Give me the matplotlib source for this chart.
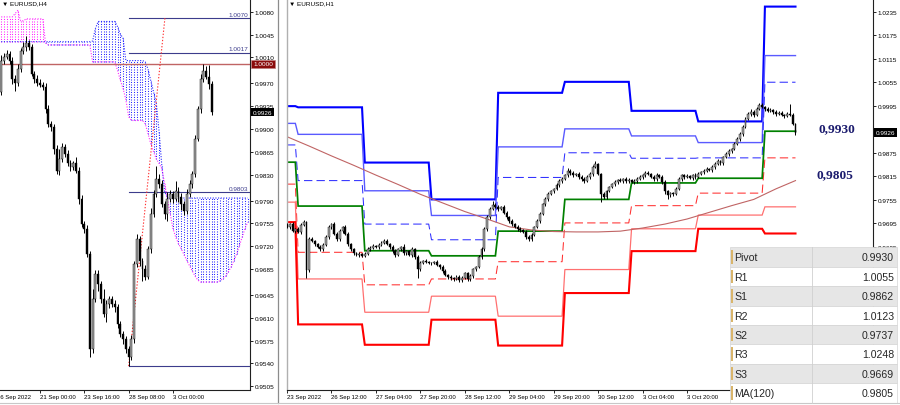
import numpy as np
import matplotlib
matplotlib.use("Agg")
import matplotlib.pyplot as plt
from matplotlib.transforms import blended_transform_factory
from matplotlib.patches import Rectangle

plt.rcParams['font.family'] = ['Liberation Sans', 'DejaVu Sans']

# ====================== DATA ======================
# ---- Left panel: EURUSD H4 (prices in pips, /10000) ----
l_open0 = 9957
l_close = [10005, 10011, 10015, 10005, 9977, 9971, 9992, 10020, 10026, 10032, 10026, 9985,
           9977, 9971, 9968, 9965, 9931, 9908, 9903, 9870, 9836, 9854, 9873, 9862,
           9847, 9842, 9847, 9836, 9793, 9754, 9747, 9708, 9562, 9639, 9678, 9662,
           9639, 9616, 9631, 9639, 9631, 9627, 9601, 9585, 9578, 9562, 9550, 9578,
           9693, 9731, 9698, 9685, 9673, 9716, 9770, 9800, 9823, 9816, 9785, 9770,
           9793, 9800, 9793, 9805, 9796, 9785, 9774, 9800, 9816, 9831, 9885, 9931,
           9977, 9989, 9980, 9969, 9926]
l_wick_up = [8, 5, 6, 4, 5, 6, 7, 5, 8, 10, 4, 5,
             4, 6, 5, 4, 5, 6, 4, 5, 6, 15, 5, 4,
             6, 5, 4, 10, 5, 6, 4, 5, 4, 15, 6, 5,
             4, 15, 6, 5, 4, 6, 5, 4, 5, 4, 5, 6,
             5, 8, 5, 4, 6, 5, 8, 6, 20, 8, 5, 4,
             10, 6, 5, 15, 6, 5, 4, 8, 6, 5, 6, 5,
             8, 11, 8, 18, 4]
l_wick_dn = [5, 6, 4, 5, 8, 12, 5, 4, 5, 6, 5, 4,
             6, 5, 4, 5, 6, 5, 6, 8, 5, 6, 4, 5,
             4, 6, 5, 4, 8, 5, 6, 5, 12, 6, 5, 10,
             6, 5, 12, 6, 5, 8, 6, 5, 8, 6, 14, 5,
             6, 5, 8, 18, 5, 4, 6, 5, 4, 6, 5, 8,
             12, 5, 6, 4, 8, 10, 6, 5, 4, 6, 5, 4,
             6, 5, 4, 8, 5]
# Ichimoku cloud spans (one value per H4 bar, cloud runs ahead of price)
span_a = [10034] * 16 + [10034] * 17 + [10035, 10054] + [10065] * 7 + [10057, 10046, 10039] + \
         [10005] * 7 + [10003, 9992, 9974, 9957, 9939, 9896, 9843, 9804] + [9794] * 30
span_b = [10072] * 5 + [10077, 10082, 10066, 10066] + [10069] * 7 + [10032] + [10029] * 16 + \
         [10003] * 9 + [9990, 9975, 9962, 9945, 9919] + [9913] * 5 + \
         [9908, 9893, 9877, 9865, 9854, 9847, 9839, 9816, 9793, 9770, 9747, 9734, 9724, 9716,
          9707, 9698, 9690, 9682, 9674, 9668] + [9665] * 7 + \
         [9667, 9670, 9674, 9681, 9688, 9698, 9708, 9721, 9734, 9747, 9757]
fib_levels = [1.0070, 1.0017, 0.9803, 0.9536]
fib_labels = ["1.0070", "1.0017", "0.9803", ""]
fib_start_bar = 46
round_level = 1.0000
trend_x = [46, 59.1]
trend_y = [0.9536, 1.0070]
l_yticks = [1.0080, 1.0045, 1.0010, 0.9970, 0.9935, 0.9900, 0.9865, 0.9830, 0.9790,
            0.9755, 0.9720, 0.9685, 0.9645, 0.9610, 0.9575, 0.9540, 0.9505]
l_xtick_pos = [14, 30, 46, 62]
l_xtick_lab = ["21 Sep 00:00", "23 Sep 16:00", "28 Sep 08:00", "3 Oct 00:00"]
l_first_label = (-1.9, "16 Sep 2022")
last_price = 0.9926

# ---- Right panel: EURUSD H1 ----
r_open0 = 9690
r_close = [9686, 9693, 9675, 9680, 9673, 9691, 9698, 9575, 9655, 9650, 9642, 9635,
           9629, 9640, 9660, 9686, 9693, 9668, 9655, 9675, 9686, 9668, 9642, 9629,
           9619, 9614, 9617, 9612, 9617, 9629, 9632, 9637, 9635, 9640, 9645, 9650,
           9642, 9635, 9624, 9614, 9629, 9635, 9619, 9624, 9614, 9629, 9609, 9578,
           9594, 9599, 9596, 9594, 9594, 9596, 9589, 9584, 9573, 9563, 9558, 9555,
           9553, 9558, 9550, 9555, 9568, 9553, 9561, 9578, 9584, 9609, 9629, 9680,
           9711, 9732, 9742, 9737, 9732, 9737, 9721, 9711, 9701, 9693, 9686, 9680,
           9678, 9673, 9660, 9655, 9665, 9686, 9701, 9719, 9744, 9757, 9770, 9777,
           9783, 9793, 9803, 9808, 9818, 9829, 9824, 9818, 9821, 9813, 9808, 9803,
           9813, 9821, 9839, 9846, 9821, 9770, 9762, 9777, 9788, 9795, 9800, 9806,
           9803, 9808, 9803, 9806, 9800, 9803, 9808, 9813, 9818, 9824, 9821, 9813,
           9808, 9818, 9813, 9800, 9777, 9767, 9772, 9770, 9783, 9808, 9818, 9813,
           9816, 9811, 9818, 9813, 9821, 9826, 9829, 9834, 9831, 9839, 9846, 9854,
           9849, 9864, 9872, 9880, 9885, 9898, 9910, 9923, 9941, 9961, 9974, 9979,
           9972, 9987, 9997, 9992, 9987, 9982, 9984, 9979, 9974, 9977, 9972, 9969,
           9974, 9972, 9949, 9926]
r_wick_up = [5, 4, 6, 3, 5, 4, 6, 3, 4, 5, 3, 4,
             4, 5, 4, 5, 3, 6, 4, 5, 3, 4, 5, 4,
             3, 4, 5, 3, 4, 5, 4, 6, 3, 4, 5, 4,
             5, 3, 4, 5, 4, 3, 6, 4, 3, 5, 4, 6,
             4, 3, 5, 4, 3, 4, 5, 3, 4, 5, 3, 4,
             3, 4, 5, 6, 4, 3, 5, 4, 3, 4, 5, 6,
             5, 4, 10, 4, 5, 3, 4, 5, 3, 4, 3, 4,
             5, 3, 4, 5, 4, 3, 5, 4, 3, 4, 5, 4,
             3, 4, 5, 4, 3, 6, 4, 5, 3, 4, 5, 4,
             4, 5, 6, 8, 4, 3, 5, 4, 3, 4, 5, 3,
             4, 3, 5, 4, 3, 4, 5, 4, 3, 5, 4, 3,
             4, 5, 3, 4, 5, 4, 3, 4, 5, 4, 3, 4,
             5, 3, 4, 5, 4, 3, 4, 5, 3, 4, 5, 4,
             3, 4, 5, 4, 3, 4, 5, 4, 6, 4, 5, 8,
             4, 5, 6, 4, 3, 5, 4, 3, 4, 5, 4, 3,
             5, 25, 4, 3]
r_wick_dn = [4, 5, 3, 6, 4, 5, 3, 20, 4, 3, 5, 4,
             5, 4, 3, 4, 5, 3, 4, 5, 4, 3, 4, 5,
             4, 3, 5, 4, 3, 4, 5, 3, 4, 5, 3, 4,
             3, 5, 4, 6, 3, 4, 5, 4, 3, 4, 5, 22,
             5, 4, 3, 4, 5, 4, 3, 5, 4, 3, 4, 5,
             4, 3, 5, 4, 3, 4, 5, 6, 4, 3, 5, 4,
             4, 5, 3, 4, 5, 4, 3, 4, 5, 4, 3, 5,
             4, 3, 5, 4, 6, 3, 4, 5, 3, 4, 5, 4,
             4, 3, 5, 4, 3, 4, 5, 4, 3, 4, 5, 4,
             3, 4, 5, 4, 3, 20, 4, 5, 3, 4, 5, 4,
             3, 4, 5, 4, 3, 4, 5, 3, 4, 5, 4, 3,
             4, 5, 3, 4, 6, 10, 4, 5, 3, 4, 5, 4,
             3, 4, 5, 4, 3, 4, 5, 4, 3, 4, 5, 3,
             4, 5, 3, 4, 5, 4, 3, 4, 5, 4, 3, 4,
             5, 4, 3, 4, 5, 3, 4, 5, 4, 3, 4, 5,
             4, 3, 4, 5]
# daily pivot levels: first H1 bar of each day (23 Sep .. 5 Oct)
day_start = [0, 4, 28, 52, 76, 100, 124, 148, 172]
piv_R3 = [0.9994, 0.9991, 0.9850, 0.9756, 1.0028, 1.0056, 0.9982, 0.9955, 1.0248]
piv_R2 = [0.9950, 0.9922, 0.9778, 0.9715, 0.9890, 0.9936, 0.9918, 0.9901, 1.0123]
piv_R1 = [0.9895, 0.9804, 0.9693, 0.9653, 0.9812, 0.9875, 0.9861, 0.9862, 1.0055]
piv_P = [0.9851, 0.9739, 0.9625, 0.9612, 0.9675, 0.9756, 0.9798, 0.9810, 0.9930]
piv_S1 = [0.9795, 0.9621, 0.9538, 0.9553, 0.9597, 0.9696, 0.9740, 0.9772, 0.9862]
piv_S2 = [0.9749, 0.9553, 0.9468, 0.9509, 0.9458, 0.9577, 0.9681, 0.9716, 0.9737]
piv_S3 = [0.9698, 0.9437, 0.9385, 0.9449, 0.9383, 0.9517, 0.9624, 0.9681, 0.9669]
ma_idx = [0, 8, 16, 24, 32, 40, 48, 56, 64, 72, 80, 88, 96, 104, 112, 120, 128, 136, 144,
          152, 160, 168, 176, 183]
ma_val = [9916, 9892, 9867, 9843, 9818, 9794, 9769, 9747, 9725, 9706, 9686, 9678, 9674,
          9673, 9673, 9675, 9683, 9693, 9706, 9723, 9740, 9756, 9783, 9804]
r_yticks = [1.0235, 1.0175, 1.0115, 1.0055, 0.9995, 0.9935, 0.9875, 0.9815, 0.9755,
            0.9695, 0.9635]
r_xtick_pos = [0, 16, 32, 48, 64, 80, 96, 112, 128, 144]
r_xtick_lab = ["23 Sep 2022", "26 Sep 12:00", "27 Sep 04:00", "27 Sep 20:00", "28 Sep 12:00",
               "29 Sep 04:00", "29 Sep 20:00", "30 Sep 12:00", "3 Oct 04:00", "3 Oct 20:00"]
tab_labels = ["Pivot", "R1", "S1", "R2", "S2", "R3", "S3", "MA(120)"]
tab_values = [0.9930, 1.0055, 0.9862, 1.0123, 0.9737, 1.0248, 0.9669, 0.9805]

# ====================== FIGURE ======================
W, H = 900, 406
fig = plt.figure(figsize=(9, 4.06), dpi=100)
fig.patch.set_facecolor('white')


def px_axes(x0, y0, x1, y1, **kw):
    return fig.add_axes([x0 / W, 1 - y1 / H, (x1 - x0) / W, (y1 - y0) / H], **kw)


axL = px_axes(0, 0, 250, 391)
axR = px_axes(287, 0, 873, 391)

LX0, LDX = 1.2, 2.77
RX0, RDX = 286.5, 2.781
axL.set_xlim((0 - LX0) / LDX, (250 - LX0) / LDX)
axL.set_ylim(0.94993, 1.00995)
axR.set_xlim((287 - RX0) / RDX, (873 - RX0) / RDX)
axR.set_ylim(0.92696, 1.02674)

TICK_FS_Y = 4.6
TICK_FS_X = 4.3

for ax in (axL, axR):
    ax.set_facecolor('white')
    ax.spines['top'].set_visible(False)
    ax.spines['right'].set_color('#202020')
    ax.spines['bottom'].set_color('#202020')
    ax.spines['right'].set_linewidth(0.8)
    ax.spines['bottom'].set_linewidth(0.8)
    ax.yaxis.tick_right()
    ax.tick_params(axis='y', length=2, width=0.6, pad=1.2, labelsize=TICK_FS_Y, colors='black')
    ax.tick_params(axis='x', length=2.2, width=0.6, pad=0.8, labelsize=TICK_FS_X, colors='black')
axL.spines['left'].set_visible(False)
axR.spines['left'].set_color('#b0b0b0')
axR.spines['left'].set_linewidth(1.0)


def draw_candles(ax, closes, open0, up, dn):
    c = np.array(closes, dtype=float) / 1e4
    o = np.concatenate([[open0 / 1e4], c[:-1]])
    hi = np.maximum(o, c) + np.array(up) / 1e4
    lo = np.minimum(o, c) - np.array(dn) / 1e4
    x = np.arange(len(c))
    ax.vlines(x, lo, hi, color='black', lw=0.7, zorder=4)
    bull = c >= o
    h = np.maximum(np.abs(c - o), 0.00008)
    ax.bar(x, h, bottom=np.minimum(o, c), width=0.68,
           color=np.where(bull, '#a4a4a4', '#000000'), edgecolor='black',
           linewidth=0.3, zorder=5)


# ---------- Left panel ----------
ka = np.arange(len(span_a))
A = np.array(span_a) / 1e4
B = np.array(span_b) / 1e4
cl = np.where(A >= B, '#2a2aff', '#ff2aff')
axL.vlines(ka, np.minimum(A, B), np.maximum(A, B), colors=cl, linestyles=(0, (1, 1.4)),
           lw=0.75, zorder=1)
axL.plot(ka, A, color='#2a2aff', ls=(0, (1, 1.4)), lw=0.8, zorder=1.5)
axL.plot(ka, B, color='#ff2aff', ls=(0, (1, 1.4)), lw=0.8, zorder=1.5)

axL.axhline(round_level, color='#c06464', lw=1.0, zorder=2)
for lv, lab in zip(fib_levels, fib_labels):
    axL.plot([fib_start_bar, axL.get_xlim()[1]], [lv, lv], color='#3c3c8c', lw=0.8, zorder=2)
    if lab:
        axL.annotate(lab, xy=(0.992, lv), xycoords=blended_transform_factory(axL.transAxes, axL.transData),
                     xytext=(0, 1.0), textcoords='offset points', ha='right', va='bottom',
                     fontsize=TICK_FS_Y, color='#3c3c8c', zorder=6)
axL.plot(trend_x, trend_y, color='#ff3030', ls=(0, (1.2, 1.6)), lw=0.8, zorder=2)

draw_candles(axL, l_close, l_open0, l_wick_up, l_wick_dn)

axL.set_yticks(l_yticks)
axL.set_yticklabels([f"{v:.4f}" for v in l_yticks])
axL.set_xticks(l_xtick_pos)
axL.set_xticklabels(l_xtick_lab)
for t in axL.get_xticklabels():
    t.set_ha('left')
axL.annotate(l_first_label[1], xy=(l_first_label[0], 0),
             xycoords=blended_transform_factory(axL.transData, axL.transAxes),
             xytext=(0.6, -3.0), textcoords='offset points', ha='left', va='top',
             fontsize=TICK_FS_X, annotation_clip=False)

bt_L = blended_transform_factory(axL.transAxes, axL.transData)
axL.text(1.012, round_level, f"{round_level:.4f}", transform=bt_L, ha='left', va='center',
         fontsize=TICK_FS_Y, color='white', zorder=10, clip_on=False,
         bbox=dict(boxstyle='square,pad=0.28', fc='#8a0c0c', ec='#c08080', lw=0.5))
axL.text(1.012, last_price, f"{last_price:.4f}", transform=bt_L, ha='left', va='center',
         fontsize=TICK_FS_Y, color='white', zorder=10, clip_on=False,
         bbox=dict(boxstyle='square,pad=0.28', fc='black', ec='none'))
axL.text(0.006, 0.996, "\u25bc EURUSD,H4", transform=axL.transAxes, ha='left', va='top',
         fontsize=4.6, color='black', zorder=10)

# ---------- Right panel ----------
n_r = len(r_close)
bounds = day_start + [n_r]
lens = np.diff(bounds)
xi = np.arange(n_r)
lvl_style = [
    (piv_R3, '#0000ff', 1.5, '-'),
    (piv_R2, '#5a5aff', 1.0, '-'),
    (piv_R1, '#3030ff', 0.75, (0, (8, 4))),
    (piv_S1, '#ff3030', 0.75, (0, (8, 4))),
    (piv_S2, '#ff7070', 0.9, '-'),
    (piv_S3, '#ff0000', 1.5, '-'),
    (piv_P, '#008000', 1.25, '-'),
]
for vals, col, lw, ls in lvl_style:
    axR.plot(xi, np.repeat(vals, lens), color=col, lw=lw, ls=ls, zorder=2,
             solid_joinstyle='miter')
axR.plot(ma_idx, np.array(ma_val) / 1e4, color='#c06464', lw=0.8, zorder=2.5)

draw_candles(axR, r_close, r_open0, r_wick_up, r_wick_dn)

axR.set_yticks(r_yticks)
axR.set_yticklabels([f"{v:.4f}" for v in r_yticks])
axR.set_xticks(r_xtick_pos)
axR.set_xticklabels(r_xtick_lab)
for t in axR.get_xticklabels():
    t.set_ha('left')

bt_R = blended_transform_factory(axR.transAxes, axR.transData)
axR.text(1.005, last_price, f"{last_price:.4f}", transform=bt_R, ha='left', va='center',
         fontsize=TICK_FS_Y, color='white', zorder=10, clip_on=False,
         bbox=dict(boxstyle='square,pad=0.28', fc='black', ec='none'))
axR.text(0.004, 0.996, "\u25bc EURUSD,H1", transform=axR.transAxes, ha='left', va='top',
         fontsize=4.6, color='black', zorder=10)

# big labels for pivot and MA
lab_x = (818 - RX0) / RDX
piv_now = tab_values[0]
ma_now = tab_values[-1]
axR.annotate(f"{piv_now:.4f}".replace('.', ','), xy=(lab_x, piv_now), xytext=(0, 2.4),
             textcoords='offset points', ha='left', va='center', fontsize=9.6,
             fontweight='bold', family='Liberation Serif', color='#1c1c6e', zorder=10)
axR.annotate(f"{ma_now:.4f}".replace('.', ','), xy=(lab_x - 0.6, ma_now),
             xytext=(0, 4.0), textcoords='offset points', ha='left', va='center', fontsize=9.6,
             fontweight='bold', family='Liberation Serif', color='#1c1c6e', zorder=10)

# ---------- Overlay: separators and table ----------
ov = fig.add_axes([0, 0, 1, 1], zorder=20)
ov.set_xlim(0, W)
ov.set_ylim(H, 0)
ov.axis('off')
ov.patch.set_alpha(0)
ov.plot([277.5, 277.5], [0, 404], color='#8c8c8c', lw=0.9)
ov.plot([0, W], [403.5, 403.5], color='#c8c8c8', lw=0.8)

tx0, tx1, tsplit = 730, 897, 812
ty0, rh = 248.3, 19.4
for r, (lab, val) in enumerate(zip(tab_labels, tab_values)):
    top = ty0 + r * rh
    fc = '#e6e6e6' if r % 2 == 0 else '#ffffff'
    ov.add_patch(Rectangle((tx0, top), tx1 - tx0, rh, fc=fc, ec='#d4d4d4', lw=0.5))
    ov.add_patch(Rectangle((tx0 + 1.2, top + 3), 1.3, rh - 6, fc='#d9b56b', ec='none'))
    ov.text(tx0 + 4, top + rh / 2 + 0.5, lab, ha='left', va='center', fontsize=7.6, color='#262626')
    ov.text(tx1 - 3, top + rh / 2 + 0.5, f"{val:.4f}", ha='right', va='center', fontsize=7.6,
            color='#262626')
ov.plot([tsplit, tsplit], [ty0, ty0 + rh * len(tab_labels)], color='#d0d0d0', lw=0.6)

fig.savefig("out.png", dpi=100, facecolor='white')
